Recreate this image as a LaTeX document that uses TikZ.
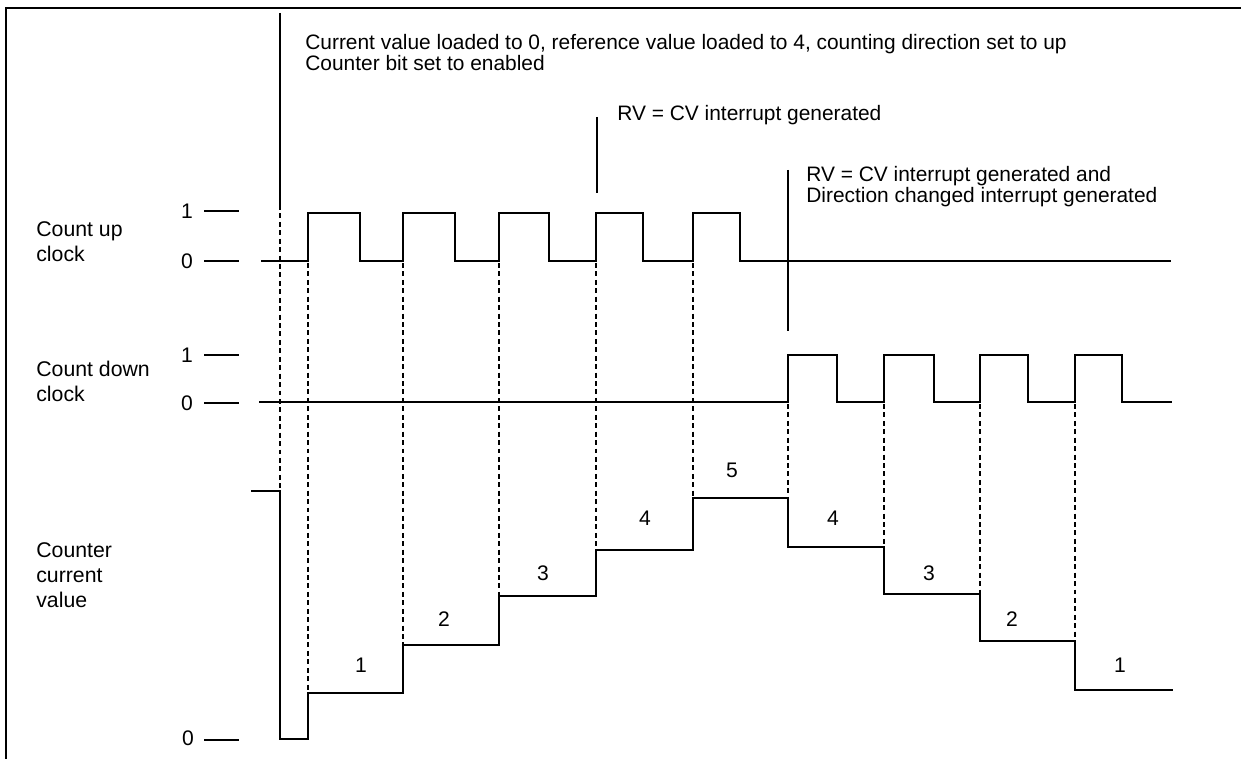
\documentclass[tikz,border=0pt]{standalone}
\usepackage{fontspec}
\setmainfont{Liberation Sans}
\usetikzlibrary{positioning}

\begin{document}
\begin{tikzpicture}[
  x=0.02cm, y=-0.02cm,
  wave/.style={line width=1.6pt, draw=black, line join=miter},
  guide/.style={line width=0.65pt, draw=black, dash pattern=on 2.8pt off 2pt},
  annot/.style={line width=0.75pt, draw=black},
  tickline/.style={line width=0.65pt, draw=black},
  note/.style={anchor=north west, align=left, inner sep=0pt, font=\fontsize{11.9}{11.9}\selectfont},
  lbl/.style={anchor=north west, align=left, inner sep=0pt, font=\fontsize{12.1}{14.2}\selectfont},
  num/.style={inner sep=0pt, font=\fontsize{12}{14}\selectfont}
]
  \useasboundingbox (0,0) rectangle (1241,759);

  % Marco (izquierda y arriba)
  \draw[line width=1.3pt] (6,759) -- (6,8) -- (1241,8);

  % Notas
  \node[note] (initnote) at (305,34) {Current value loaded to 0, reference value loaded to 4, counting direction set to up\\Counter bit set to enabled};
  \node[note] (rvnote) at (617,105) {RV = CV interrupt generated};
  \node[note] (dirnote) at (806,166) {RV = CV interrupt generated and\\Direction changed interrupt generated};

  % Nombres de las senales
  \node[lbl] (uplbl) at (36,221) {Count up\\clock};
  \node[lbl] (downlbl) at (36,361) {Count down\\clock};
  \node[lbl] (cvlbl) at (36,542) {Counter\\current\\value};

  % Niveles 0 / 1
  \node[num] (up1) at (187,211) {1};
  \node[num] (up0) at (187,261) {0};
  \node[num] (dn1) at (187,355) {1};
  \node[num] (dn0) at (187,403) {0};
  \node[num] (cv0) at (188,738) {0};
  \draw[tickline] (204,211) -- (239,211);
  \draw[tickline] (204,261) -- (239,261);
  \draw[tickline] (204,355) -- (239,355);
  \draw[tickline] (204,403) -- (239,403);
  \draw[tickline] (204,740) -- (239,740);

  % Reloj de cuenta ascendente
  \draw[wave] (261,261) -- (308,261) -- (308,213) -- (360,213) -- (360,261) -- (403,261) -- (403,213) -- (455,213) -- (455,261)
    -- (499,261) -- (499,213) -- (549,213) -- (549,261) -- (596,261) -- (596,213) -- (643,213) -- (643,261)
    -- (693,261) -- (693,213) -- (740,213) -- (740,261) -- (1171,261);

  % Reloj de cuenta descendente
  \draw[wave] (259,402) -- (788,402) -- (788,355) -- (837,355) -- (837,402) -- (884,402) -- (884,355) -- (934,355) -- (934,402)
    -- (980,402) -- (980,355) -- (1028,355) -- (1028,402) -- (1075,402) -- (1075,355) -- (1122,355) -- (1122,402) -- (1172,402);

  % Valor actual del contador
  \draw[wave] (251,491) -- (280,491) -- (280,739) -- (308,739) -- (308,693) -- (403,693) -- (403,645) -- (499,645) -- (499,596)
    -- (596,596) -- (596,550) -- (693,550) -- (693,498) -- (788,498) -- (788,547) -- (884,547) -- (884,594)
    -- (980,594) -- (980,641) -- (1075,641) -- (1075,690) -- (1173,690);

  % Lineas de los eventos
  \draw[annot] (280,13) -- (280,205);
  \draw[annot] (597,117) -- (597,193);
  \draw[annot] (788,170) -- (788,331);

  % Guias punteadas
  \draw[guide] (280,205) -- (280,491);
  \draw[guide] (308,263) -- (308,693);
  \draw[guide] (403,263) -- (403,645);
  \draw[guide] (499,263) -- (499,596);
  \draw[guide] (596,263) -- (596,550);
  \draw[guide] (693,263) -- (693,498);
  \draw[guide] (788,404) -- (788,498);
  \draw[guide] (884,404) -- (884,547);
  \draw[guide] (980,404) -- (980,594);
  \draw[guide] (1075,404) -- (1075,641);

  % Valores del contador
  \node[num] (cnt1) at (361,665) {1};
  \node[num] (cnt2) at (444,619) {2};
  \node[num] (cnt3) at (543,573) {3};
  \node[num] (cnt4) at (645,518) {4};
  \node[num] (cnt5) at (732,470) {5};
  \node[num] (cnt4d) at (833,518) {4};
  \node[num] (cnt3d) at (929,573) {3};
  \node[num] (cnt2d) at (1012,619) {2};
  \node[num] (cnt1d) at (1120,665) {1};

\end{tikzpicture}
\end{document}
